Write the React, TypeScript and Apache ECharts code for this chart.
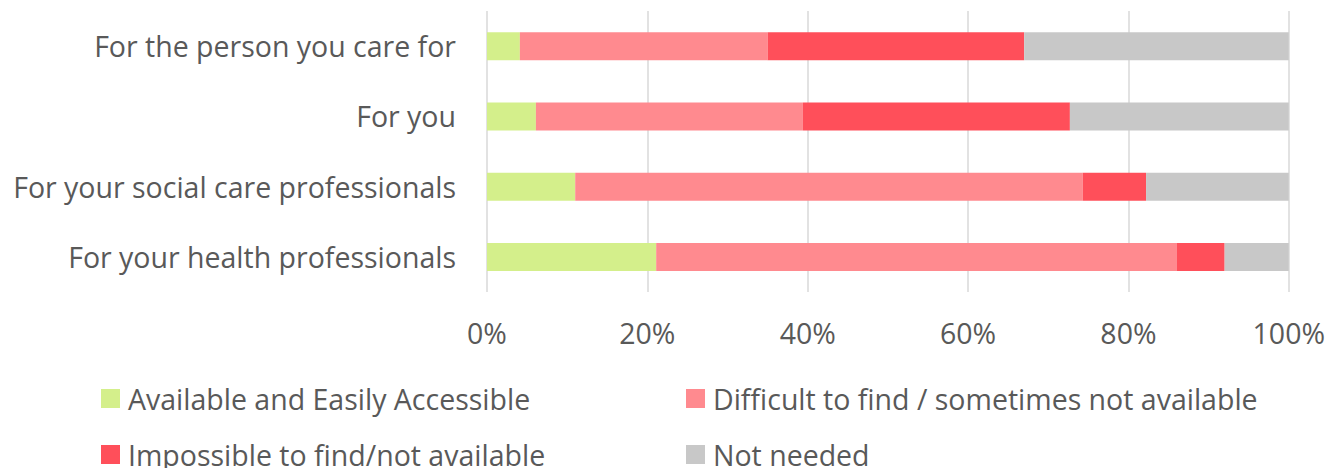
import React, { useEffect, useRef } from "react";
import * as echarts from "echarts";

const categories = [
  "For the person you care for",
  "For you",
  "For your social care professionals",
  "For your health professionals",
];
const seriesNames = [
  "Available and Easily Accessible",
  "Difficult to find / sometimes not available",
  "Impossible to find/not available",
  "Not needed",
];
const availableEasily = [4.1, 6.1, 11.0, 21.1];
const difficultToFind = [30.9, 33.3, 63.3, 64.9];
const impossibleToFind = [32.0, 33.3, 7.9, 6.0];
const notNeeded = [33.0, 27.3, 17.8, 8.0];
const xTicks = [0, 20, 40, 60, 80, 100];

const colors = ["#d4ef8b", "#ff8a8f", "#ff4f5a", "#c8c8c8"];
const FONT = "Open Sans";
const TEXT = "#595959";
const FS = 28.5;

export default function App() {
  const ref = useRef<HTMLDivElement>(null);
  useEffect(() => {
    if (!ref.current) return;
    const chart = echarts.init(ref.current, undefined, { renderer: "svg" });
    const values = [availableEasily, difficultToFind, impossibleToFind, notNeeded];
    const legendPos = [
      { left: 101, top: 384 },
      { left: 686, top: 384 },
      { left: 101, top: 440 },
      { left: 686, top: 440 },
    ];
    chart.setOption({
      animation: false,
      textStyle: { fontFamily: FONT },
      grid: { left: 487, right: 39, top: 11, bottom: 176, containLabel: false },
      xAxis: {
        type: "value",
        min: xTicks[0],
        max: xTicks[xTicks.length - 1],
        interval: 20,
        axisLabel: {
          formatter: (v: number) => `${v}%`,
          color: TEXT,
          fontSize: FS,
          fontFamily: FONT,
          margin: 26,
        },
        axisLine: { show: false },
        axisTick: { show: false },
        splitLine: { show: true, lineStyle: { color: "#d9d9d9", width: 1.5 } },
      },
      yAxis: {
        type: "category",
        data: categories,
        inverse: true,
        axisLabel: { color: TEXT, fontSize: FS, fontFamily: FONT, margin: 31 },
        axisLine: { show: false },
        axisTick: { show: false },
      },
      legend: seriesNames.map((n, i) => ({
        data: [n],
        left: legendPos[i].left,
        top: legendPos[i].top,
        padding: 0,
        itemWidth: 19,
        itemHeight: 19,
        itemGap: 0,
        icon: "rect",
        selectedMode: false,
        textStyle: { color: TEXT, fontSize: FS, fontFamily: FONT, padding: [0, 0, 0, 3] },
      })),
      series: seriesNames.map((n, i) => ({
        name: n,
        type: "bar",
        stack: "total",
        barWidth: 28,
        itemStyle: { color: colors[i] },
        emphasis: { disabled: true },
        data: values[i],
      })),
    });
    return () => chart.dispose();
  }, []);
  return <div ref={ref} style={{ width: 1328, height: 468, position: "absolute", left: 0, top: 0 }} />;
}
